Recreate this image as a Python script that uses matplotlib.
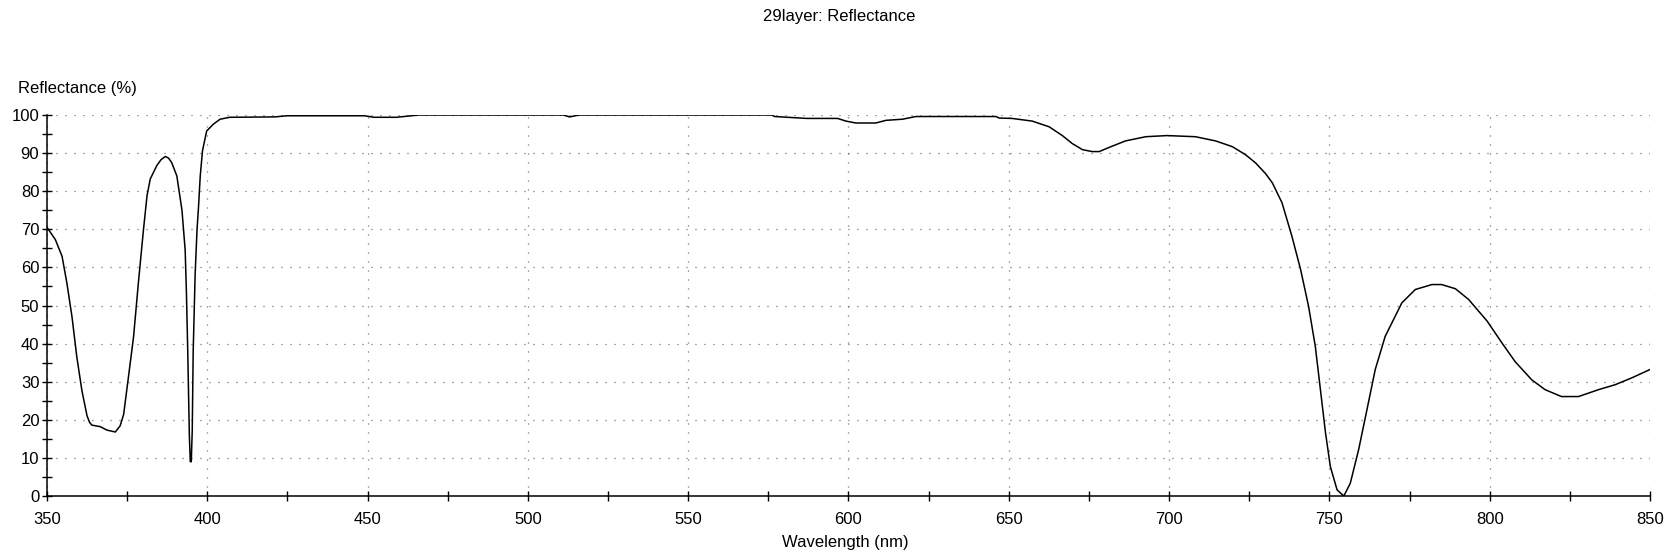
import matplotlib
matplotlib.use("Agg")
import matplotlib.pyplot as plt
from matplotlib.ticker import MultipleLocator
from matplotlib import font_manager

# ---- data ----
wavelength = [350, 352.6, 354.7, 356.2, 357.8, 359.3, 360.9, 362.5, 363.3, 364, 366.6,
              368.7, 371.3, 372.8, 373.9, 375.4, 377, 378.5, 380.1, 381.2, 382.2,
              384.3, 385.6, 386.9, 387.9, 388.9, 390.5, 392.1, 393.1, 393.5, 393.9, 394.4, 394.7,
              395.0, 395.3, 395.6, 396.2, 396.8, 397.2, 397.8, 398.5, 399.8, 401.9,
              404, 407, 421, 425, 449, 452, 459, 466, 511, 513,
              516, 576, 577, 587, 596.6, 599.2, 602.3, 608.5, 611.7, 616.9,
              621, 626, 646, 647, 651, 657.3, 662.6, 666.7, 669.8, 673,
              676, 678.2, 681.3, 686.4, 692.7, 699.4, 708.2, 714.5, 719.7, 723.8,
              727, 730.1, 732.2, 735.2, 738.3, 741, 743.5, 745.6, 747.2, 748.8,
              750.3, 752.4, 754.5, 756.5, 759.1, 761.7, 764.3, 767.4, 770, 772.6,
              776.8, 782, 785, 789.3, 793.4, 799.2, 803.8, 807.9, 813.1, 817.3,
              822.4, 827.7, 833.9, 839.1, 844.3, 850]
reflectance = [70.5, 67.3, 62.9, 55.9, 47.0, 36.5, 27.6, 21.0, 19.3, 18.6, 18.2,
               17.3, 16.8, 18.4, 21.4, 31.2, 41.8, 55.9, 70.0, 78.8, 83.2,
               86.8, 88.3, 89.1, 88.7, 87.5, 84.0, 75.0, 64.5, 53.0, 38.0, 16.0, 9.0,
               9.0, 17.0, 38.0, 58.0, 70.0, 75.0, 84.0, 90.6, 95.8, 97.6,
               98.9, 99.4, 99.5, 99.8, 99.8, 99.4, 99.4, 100, 100, 99.5,
               100, 100, 99.6, 99.1, 99.1, 98.4, 97.9, 97.9, 98.6, 98.9,
               99.6, 99.6, 99.6, 99.2, 99.1, 98.4, 96.9, 94.6, 92.5, 90.9,
               90.4, 90.4, 91.5, 93.2, 94.3, 94.6, 94.3, 93.2, 91.7, 89.6,
               87.4, 84.6, 82.2, 77.0, 68.2, 59.5, 49.8, 39.3, 27.9, 16.5,
               7.7, 1.6, 0.0, 3.3, 12.1, 22.6, 33.2, 41.9, 46.3, 50.7,
               54.2, 55.5, 55.5, 54.4, 51.6, 45.9, 40.2, 35.3, 30.5, 27.9,
               26.1, 26.1, 27.9, 29.2, 31.0, 33.2]

title = "29layer: Reflectance"
ylabel = "Reflectance (%)"
xlabel = "Wavelength (nm)"

available = {f.name for f in font_manager.fontManager.ttflist}
fam = ['Liberation Sans Narrow', 'Liberation Sans', 'DejaVu Sans']
fam = [f for f in fam if f in available] or ['DejaVu Sans']
plt.rcParams['font.family'] = fam
FS = 12

fig = plt.figure(figsize=(16.77, 5.6), dpi=100)
W, H = 1677, 560
x0, x1 = 47, 1650
y_top, y_bot = 115, 496
ax = fig.add_axes([x0 / W, 1 - y_bot / H, (x1 - x0) / W, (y_bot - y_top) / H])

ax.plot(wavelength, reflectance, color='black', lw=1.1, solid_joinstyle='round')

ax.set_xlim(350, 850)
ax.set_ylim(0, 100)
ax.xaxis.set_major_locator(MultipleLocator(50))
ax.xaxis.set_minor_locator(MultipleLocator(25))
ax.yaxis.set_major_locator(MultipleLocator(10))
ax.yaxis.set_minor_locator(MultipleLocator(5))

for s in ('top', 'right'):
    ax.spines[s].set_visible(False)
for s in ('left', 'bottom'):
    ax.spines[s].set_linewidth(1.1)
    ax.spines[s].set_color('black')

ax.tick_params(which='both', direction='inout', length=7, width=1.0, color='black')
ax.tick_params(axis='y', which='major', pad=2, labelsize=FS)
ax.tick_params(axis='x', which='major', pad=8, labelsize=FS)

ax.grid(True, which='major', color='#555555', linestyle=(0, (0.8, 6.4)), linewidth=0.9)
ax.set_axisbelow(True)

fig.text(839 / W, 1 - 16 / H, title, ha='center', va='center', fontsize=FS)
fig.text(18 / W, 1 - 88 / H, ylabel, ha='left', va='center', fontsize=FS)
fig.text(845 / W, 1 - 542 / H, xlabel, ha='center', va='center', fontsize=FS)

fig.savefig('out.png', dpi=100, facecolor='white')
